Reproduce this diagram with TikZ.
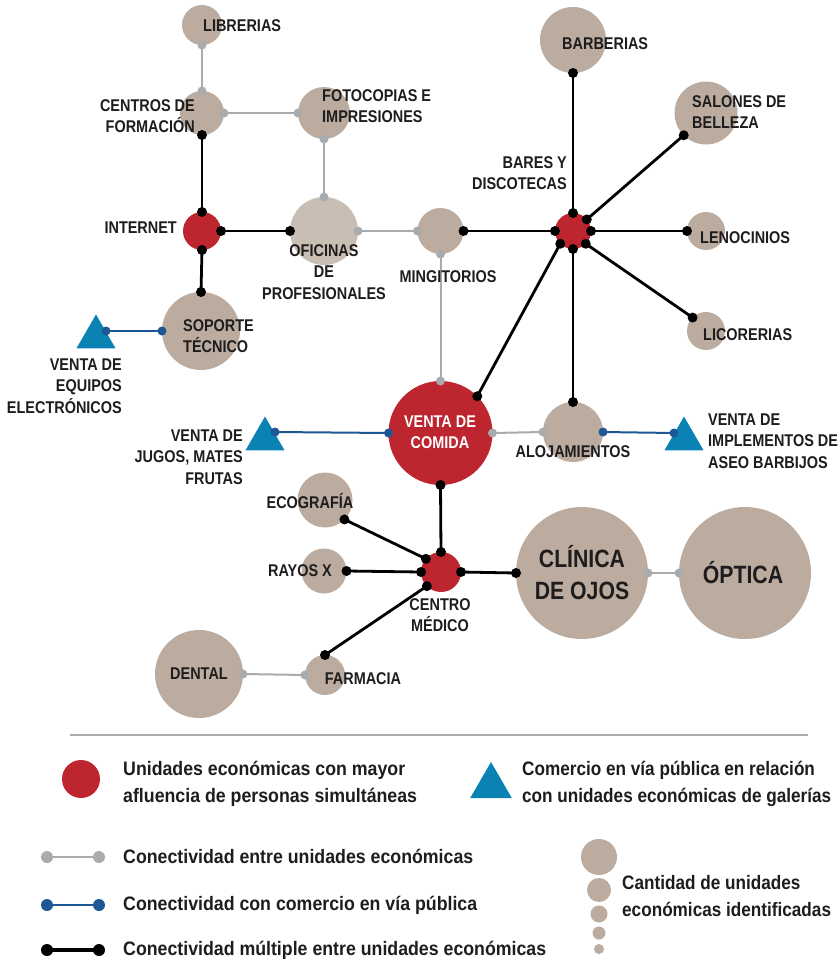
\documentclass[tikz,border=0pt]{standalone}
\usepackage{fontspec}
\setmainfont{Liberation Sans}[FakeStretch=0.85]
\newfontfamily\legfont{Liberation Sans}[FakeStretch=0.91]
\newfontfamily\legfontn{Liberation Sans}[FakeStretch=0.88]
\usetikzlibrary{shapes.geometric}
\definecolor{cTan}{RGB}{187,172,159}
\definecolor{cTanL}{RGB}{201,190,180}
\definecolor{cRed}{RGB}{189,37,47}
\definecolor{cTri}{RGB}{11,130,180}
\definecolor{cBlue}{RGB}{30,88,148}
\definecolor{cGray}{RGB}{168,172,174}
\definecolor{cText}{RGB}{30,28,28}
% connector with end dots: style, dot colour, dot radius, from, to
\newcommand\conn[5]{\draw[#1] (#4) -- (#5);
  \fill[#2] (#4) circle[radius=#3pt]; \fill[#2] (#5) circle[radius=#3pt];}
\newcommand\gconn[2]{\conn{glink}{cGray}{4.5}{#1}{#2}}
\newcommand\kconn[2]{\conn{klink}{black}{5}{#1}{#2}}
\newcommand\bconn[2]{\conn{blink}{cBlue}{4.5}{#1}{#2}}
\begin{document}
\begin{tikzpicture}[x=1pt,y=-1pt,
  unit/.style={circle,fill=cTan,inner sep=0pt,outer sep=0pt,minimum size=#1},
  hub/.style={circle,fill=cRed,inner sep=0pt,outer sep=0pt,minimum size=#1},
  tri/.style={regular polygon,regular polygon sides=3,fill=cTri,inner sep=0pt,outer sep=0pt,minimum size=#1},
  lbl/.style={font=\bfseries\fontsize{17}{21.5}\selectfont,text=cText,inner sep=0pt},
  big/.style={font=\bfseries\fontsize{25}{32}\selectfont,text=cText,inner sep=0pt},
  leg/.style={font=\legfont\bfseries\fontsize{19.5}{27.5}\selectfont,text=cText,inner sep=0pt},
  legn/.style={font=\legfontn\bfseries\fontsize{19.5}{27.5}\selectfont,text=cText,inner sep=0pt},
  glink/.style={draw=cGray,line width=2pt},
  klink/.style={draw=black,line width=2.8pt},
  blink/.style={draw=cBlue,line width=2pt}]
\useasboundingbox (0,0) rectangle (840,959);
% ---------- units ----------
\node[unit=40] (lib) at (202,25) {};
\node[unit=44] (cen) at (202,113) {};
\node[unit=52] (foto) at (324,113) {};
\node[hub=38] (inet) at (202,231) {};
\node[circle,fill=cTanL,inner sep=0pt,outer sep=0pt,minimum size=68] (ofi) at (324,231) {};
\node[unit=46] (ming) at (440.5,231) {};
\node[hub=36] (bar) at (573,231) {};
\node[unit=66] (barb) at (573,40) {};
\node[unit=63] (sal) at (706,113) {};
\node[unit=38] (len) at (706,231) {};
\node[unit=38] (lic) at (706,331) {};
\node[unit=78] (sop) at (201,331) {};
\node[hub=104] (vc) at (440.5,433) {};
\node[unit=60] (aloj) at (573,432) {};
\node[hub=40] (cm) at (441,572) {};
\node[unit=55] (eco) at (325,500) {};
\node[unit=45] (rayx) at (324,571) {};
\node[unit=88] (dent) at (199,674) {};
\node[unit=40] (farm) at (325,675) {};
\node[unit=132] (clin) at (582,573) {};
\node[unit=132] (opt) at (745,573) {};
\node[tri=45] (t1) at (96,337) {};
\node[tri=45] (t2) at (265,439) {};
\node[tri=45] (t3) at (684,439) {};
\coordinate (t1d) at (106,331);
\coordinate (t2d) at (275,432);
\coordinate (t3d) at (674,433);
% ---------- connectors ----------
\gconn{lib.-90}{cen.90}
\gconn{cen.0}{foto.180}
\gconn{foto.-90}{ofi.90}
\gconn{ofi.0}{ming.180}
\gconn{ming.-90}{vc.90}
\gconn{vc.0}{aloj.180}
\gconn{clin.0}{opt.180}
\gconn{dent.0}{farm.180}
\kconn{cen.-90}{inet.90}
\kconn{inet.0}{ofi.180}
\kconn{inet.-90}{sop.90}
\kconn{ming.0}{bar.180}
\kconn{bar.90}{barb.-90}
\kconn{bar.40}{sal.-135}
\kconn{bar.0}{len.180}
\kconn{bar.-45}{lic.135}
\kconn{bar.-90}{aloj.90}
\kconn{vc.45}{bar.-135}
\kconn{vc.-90}{cm.90}
\kconn{cm.0}{clin.180}
\kconn{cm.180}{rayx.0}
\kconn{eco.-45}{cm.139}
\kconn{farm.90}{cm.-135}
\bconn{sop.180}{t1d}
\bconn{vc.180}{t2d}
\bconn{aloj.0}{t3d}
% ---------- labels ----------
\node[lbl,anchor=west] (lLib) at (203,26) {LIBRERIAS};
\node[lbl,anchor=east,align=right] (lCen) at (195,116) {CENTROS DE\\FORMACIÓN};
\node[lbl,anchor=west,align=left] (lFoto) at (322,106) {FOTOCOPIAS E\\IMPRESIONES};
\node[lbl,anchor=east] (lInet) at (177,228) {INTERNET};
\node[lbl,align=center] (lOfi) at (324,272) {OFICINAS\\DE\\PROFESIONALES};
\node[lbl] (lMing) at (448,277) {MINGITORIOS};
\node[lbl,anchor=east,align=right] (lBar) at (567,173) {BARES Y\\DISCOTECAS};
\node[lbl,anchor=west] (lBarb) at (562,44) {BARBERIAS};
\node[lbl,anchor=west,align=left] (lSal) at (692,112) {SALONES DE\\BELLEZA};
\node[lbl,anchor=west] (lLen) at (700,238) {LENOCINIOS};
\node[lbl,anchor=west] (lLic) at (703,335) {LICORERIAS};
\node[lbl,anchor=west,align=left] (lSop) at (183,336) {SOPORTE\\TÉCNICO};
\node[lbl,anchor=east,align=right] (lT1) at (122,386) {VENTA DE\\EQUIPOS\\ELECTRÓNICOS};
\node[lbl,align=center,text=white] (lVc) at (440,432) {VENTA DE\\COMIDA};
\node[lbl,anchor=east,align=right] (lT2) at (243,457) {VENTA DE\\JUGOS, MATES\\FRUTAS};
\node[lbl] (lAloj) at (573,452) {ALOJAMIENTOS};
\node[lbl,anchor=west,align=left] (lT3) at (708,441) {VENTA DE\\IMPLEMENTOS DE\\ASEO BARBIJOS};
\node[lbl] (lEco) at (310,501) {ECOGRAFÍA};
\node[lbl] (lRay) at (300,571) {RAYOS X};
\node[lbl,align=center] (lCm) at (440,615) {CENTRO\\MÉDICO};
\node[lbl] (lDent) at (199,674) {DENTAL};
\node[lbl] (lFarm) at (363,679) {FARMACIA};
\node[big,align=center] (lClin) at (582,573) {CLÍNICA\\DE OJOS};
\node[big] (lOpt) at (743,573) {ÓPTICA};
% ---------- legend ----------
\draw[cGray,line width=1.5pt] (70,735) -- (808,735);
\node[hub=38] (kRed) at (81,779) {};
\node[tri=48] (kTri) at (491,786) {};
\node[unit=36] (kS1) at (599,857) {};
\node[unit=24] (kS2) at (599,890) {};
\node[unit=17] (kS3) at (599,914) {};
\node[unit=13] (kS4) at (599,933) {};
\node[unit=10] (kS5) at (599,949) {};
\coordinate (kg1) at (47,857); \coordinate (kg2) at (99,857);
\coordinate (kb1) at (47,905); \coordinate (kb2) at (99,905);
\coordinate (kk1) at (47,950); \coordinate (kk2) at (99,950);
\conn{glink}{cGray}{6}{kg1}{kg2}
\conn{blink}{cBlue}{6}{kb1}{kb2}
\conn{klink,line width=4pt}{black}{6}{kk1}{kk2}
\node[leg,anchor=west,align=left] (lg1) at (123,784) {Unidades económicas con mayor\\afluencia de personas simultáneas};
\node[legn,anchor=west,align=left] (lg2) at (522,784) {Comercio en vía pública en relación\\con unidades económicas de galerías};
\node[leg,anchor=base west] (lg3) at (123,863) {Conectividad entre unidades económicas};
\node[leg,anchor=base west] (lg4) at (123,910) {Conectividad con comercio en vía pública};
\node[leg,anchor=base west] (lg5) at (123,955) {Conectividad múltiple entre unidades económicas};
\node[legn,anchor=west,align=left] (lg6) at (622,896) {Cantidad de unidades\\económicas identificadas};
\end{tikzpicture}
\end{document}
